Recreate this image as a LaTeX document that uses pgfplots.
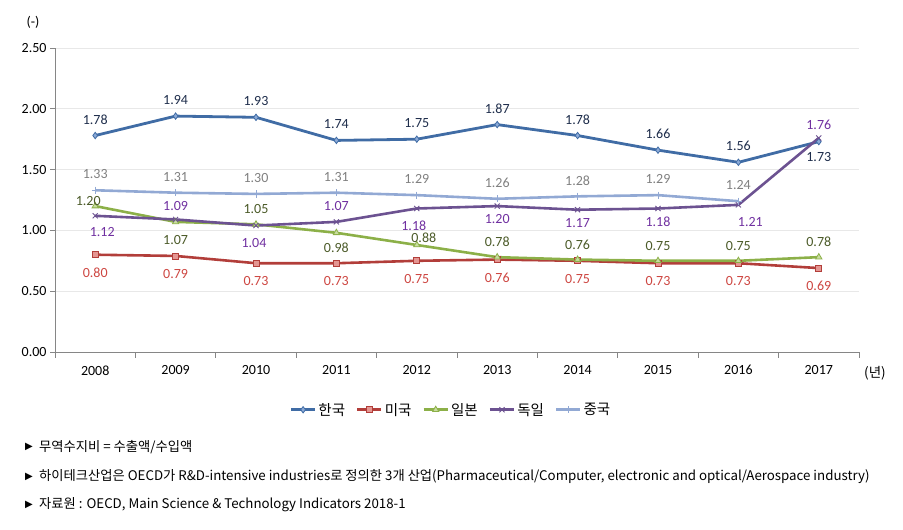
\documentclass[border=0pt]{standalone}
\usepackage{pgfplots}
\usepackage{pgfplotstable}
\pgfplotsset{compat=1.18}
\usepackage{fontspec}
\setmainfont{Carlito}
\newfontfamily\kr{Noto Sans CJK KR}
\newfontfamily\sym{DejaVu Sans}

\definecolor{korealine}{RGB}{64,108,165}
\definecolor{koreafill}{RGB}{140,170,215}
\definecolor{korealab}{RGB}{30,45,75}
\definecolor{usline}{RGB}{178,62,58}
\definecolor{usfill}{RGB}{228,150,146}
\definecolor{uslab}{RGB}{205,70,65}
\definecolor{jpline}{RGB}{140,176,72}
\definecolor{jpfill}{RGB}{200,220,160}
\definecolor{jplab}{RGB}{75,90,40}
\definecolor{deline}{RGB}{108,82,145}
\definecolor{delab}{RGB}{112,48,160}
\definecolor{cnline}{RGB}{146,169,212}
\definecolor{cnlab}{RGB}{128,128,128}
\definecolor{axisgray}{RGB}{134,134,134}
\definecolor{gridgray}{RGB}{232,232,232}

\pgfplotstableread{
x y dx dy
0 1.78 0 16
1 1.94 0 16
2 1.93 0 16
3 1.74 0 16
4 1.75 0 16
5 1.87 0 16
6 1.78 0 16
7 1.66 0 16
8 1.56 0 16
9 1.73 0 -15
}\korea
\pgfplotstableread{
x y dx dy
0 0.80 0 -18
1 0.79 0 -18
2 0.73 0 -18
3 0.73 0 -18
4 0.75 0 -18
5 0.76 0 -18
6 0.75 0 -18
7 0.73 0 -18
8 0.73 0 -18
9 0.69 0 -18
}\usa
\pgfplotstableread{
x y dx dy
0 1.20 -7 5
1 1.07 0 -18
2 1.05 0 15
3 0.98 0 -15
4 0.88 7 7
5 0.78 0 15
6 0.76 0 15
7 0.75 0 15
8 0.75 0 15
9 0.78 0 15
}\japan
\pgfplotstableread{
x y dx dy
0 1.12 7 -16
1 1.09 0 13
2 1.04 -2 -17
3 1.07 0 16
4 1.18 -3 -17
5 1.20 0 -13
6 1.17 0 -13
7 1.18 0 -13
8 1.21 12 -17
9 1.76 0 13
}\germany
\pgfplotstableread{
x y dx dy
0 1.33 0 16
1 1.31 0 16
2 1.30 0 16
3 1.31 0 16
4 1.29 0 16
5 1.26 0 16
6 1.28 0 16
7 1.29 0 16
8 1.24 0 16
}\china

\newcommand{\numfont}{\fontsize{14bp}{16bp}\selectfont}
\newcommand{\notefont}{\kr\fontsize{13.3bp}{15bp}\selectfont}

\begin{document}
\begin{tikzpicture}
\useasboundingbox (0,0) rectangle (903bp,530bp);
\begin{axis}[
  at={(55bp,178bp)}, anchor=south west,
  scale only axis, width=804bp, height=304bp,
  xmin=-0.5, xmax=9.5, ymin=0, ymax=2.5,
  xtick={0,...,9},
  xticklabels={2008,2009,2010,2011,2012,2013,2014,2015,2016,2017},
  ytick={0,0.5,1,1.5,2,2.5},
  minor xtick={-0.5,0.5,...,9.5},
  axis x line*=bottom, axis y line*=left,
  axis line style={draw=axisgray, line width=0.8bp, -},
  tick align=outside,
  major tick length=5bp, minor tick length=6bp,
  tick style={draw=axisgray, line width=0.8bp},
  major x tick style={draw=none},
  ymajorgrids, grid style={draw=gridgray, line width=0.8bp},
  /pgf/number format/assume math mode=true,
  yticklabel style={font=\numfont, /pgf/number format/fixed, /pgf/number format/fixed zerofill, /pgf/number format/precision=2},
  xticklabel style={font=\numfont, yshift=-5bp},
  clip=false,
  point meta=y,
  nodes near coords={\pgfmathprintnumber[fixed,fixed zerofill,precision=2]{\pgfplotspointmeta}},
  visualization depends on={\thisrow{dx} \as \dx},
  visualization depends on={\thisrow{dy} \as \dy},
  nodes near coords style={anchor=center, xshift={\dx*1bp}, yshift={\dy*1bp}, font=\numfont, inner sep=0pt},
  legend columns=5,
  legend style={at={(0.4925,-0.19)}, anchor=center, draw=none, fill=none,
    font=\kr\fontsize{14.5bp}{16bp}\selectfont,
    /tikz/every even column/.append style={column sep=9bp},
    inner sep=0pt},
  legend image code/.code={\draw[mark repeat=2,mark phase=2] plot coordinates {(0bp,0bp)(12bp,0bp)(24bp,0bp)};},
]
\addplot[korealine, line width=2.8bp, mark=diamond*, mark size=3.2bp,
  mark options={fill=koreafill, draw=korealine, line width=0.8bp},
  nodes near coords style={text=korealab}] table[x=x,y=y] {\korea};
\addlegendentry{한국}
\addplot[usline, line width=2.6bp, mark=square*, mark size=3bp,
  mark options={fill=usfill, draw=usline, line width=0.8bp},
  nodes near coords style={text=uslab}] table[x=x,y=y] {\usa};
\addlegendentry{미국}
\addplot[jpline, line width=2.6bp, mark=triangle*, mark size=3.6bp,
  mark options={fill=jpfill, draw=jpline, line width=0.8bp},
  nodes near coords style={text=jplab}] table[x=x,y=y] {\japan};
\addlegendentry{일본}
\addplot[deline, line width=2.6bp, mark=x, mark size=3.6bp,
  mark options={draw=deline, line width=0.9bp},
  nodes near coords style={text=delab}] table[x=x,y=y] {\germany};
\addlegendentry{독일}
\addplot[cnline, line width=2.6bp, mark=+, mark size=3.6bp,
  mark options={draw=cnline, line width=0.9bp},
  nodes near coords style={text=cnlab}] table[x=x,y=y] {\china};
\addlegendentry{중국}
\end{axis}
\node[font=\numfont] at (33bp,508bp) {(-)};
\node[font=\kr\fontsize{13.5bp}{15bp}\selectfont] at (875bp,157bp) {(년)};
\begin{scope}[every node/.style={anchor=west, inner sep=0pt}]
\node at (25bp,83bp) {\sym\fontsize{10bp}{10bp}\selectfont ▶};
\node at (25bp,53bp) {\sym\fontsize{10bp}{10bp}\selectfont ▶};
\node at (25bp,25bp) {\sym\fontsize{10bp}{10bp}\selectfont ▶};
\node[font=\notefont] at (39bp,83bp) {무역수지비 = 수출액/수입액};
\node[font=\notefont] at (39bp,53bp) {하이테크산업은 OECD가 R\&D-intensive industries로 정의한 3개 산업(Pharmaceutical/Computer, electronic and optical/Aerospace industry)};
\node[font=\notefont] at (39bp,25bp) {자료원 : OECD, Main Science \& Technology Indicators 2018-1};
\end{scope}
\end{tikzpicture}
\end{document}
